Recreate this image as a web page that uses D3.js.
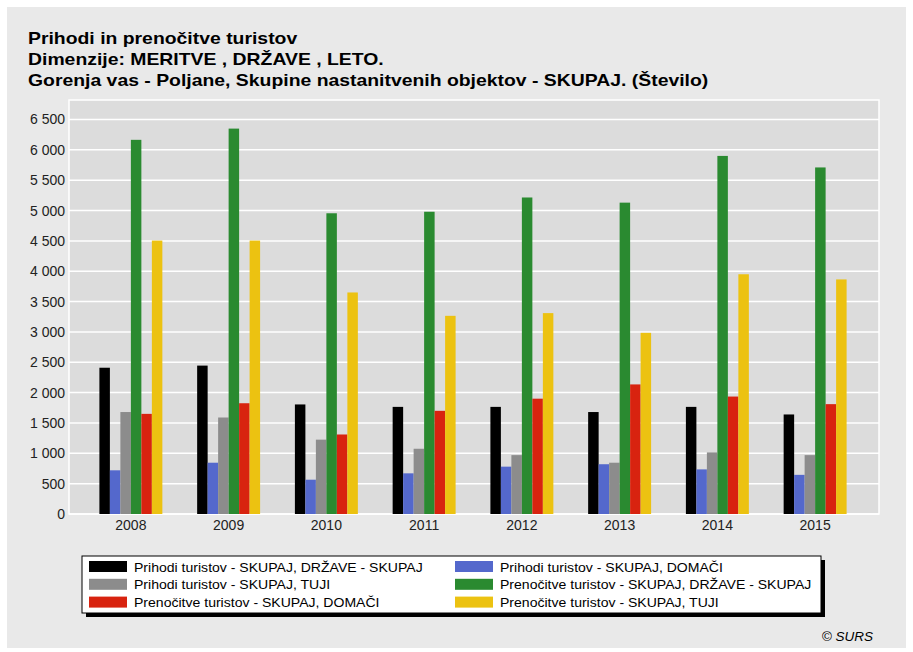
<!DOCTYPE html>
<html>
<head>
<meta charset="utf-8">
<script src="https://cdn.jsdelivr.net/npm/d3@7"></script>
<style>
  body { margin: 0; background: #fff; }
  svg { display: block; font-family: "Liberation Sans", Arial, sans-serif; }
</style>
</head>
<body>
<div id="chart"></div>
<script>
  'use strict';

  var years = ['2008', '2009', '2010', '2011', '2012', '2013', '2014', '2015'];
  var seriesNames = [
    'Prihodi turistov - SKUPAJ, DRŽAVE - SKUPAJ',
    'Prihodi turistov - SKUPAJ, DOMAČI',
    'Prihodi turistov - SKUPAJ, TUJI',
    'Prenočitve turistov - SKUPAJ, DRŽAVE - SKUPAJ',
    'Prenočitve turistov - SKUPAJ, DOMAČI',
    'Prenočitve turistov - SKUPAJ, TUJI'
  ];
  var prihodiSkupaj = [2410, 2445, 1805, 1765, 1765, 1680, 1765, 1640];
  var prihodiDomaci = [720, 845, 565, 670, 780, 820, 735, 645];
  var prihodiTuji = [1680, 1590, 1225, 1075, 970, 845, 1015, 970];
  var prenocitveSkupaj = [6165, 6350, 4955, 4980, 5215, 5130, 5900, 5710];
  var prenocitveDomaci = [1650, 1825, 1310, 1700, 1900, 2135, 1935, 1810];
  var prenocitveTuji = [4505, 4505, 3650, 3265, 3310, 2985, 3950, 3865];
  var yTicks = [0, 500, 1000, 1500, 2000, 2500, 3000, 3500, 4000, 4500, 5000, 5500, 6000, 6500];

  var seriesValues = [prihodiSkupaj, prihodiDomaci, prihodiTuji, prenocitveSkupaj, prenocitveDomaci, prenocitveTuji];
  var colors = ['#000000', '#5468cc', '#8c8c8c', '#2a8a30', '#d8230f', '#ecc211'];

  var width = 913, height = 652;
  var plot = { left: 69, top: 100, right: 879, bottom: 514 };

  // widen glyphs a bit, the original was rendered with wider text
  var stretch = function(sel, factor) {
    sel.each(function() {
      var w = this.getComputedTextLength();
      d3.select(this).attr('textLength', w * factor).attr('lengthAdjust', 'spacingAndGlyphs');
    });
  };

  var svg = d3.select('#chart').append('svg')
    .attr('width', width)
    .attr('height', height);

  // outer panel
  svg.append('rect')
    .attr('x', 7).attr('y', 7)
    .attr('width', 899).attr('height', 641)
    .attr('fill', '#e9e9e9');

  var titles = [
    'Prihodi in prenočitve turistov',
    'Dimenzije: MERITVE , DRŽAVE , LETO.',
    'Gorenja vas - Poljane, Skupine nastanitvenih objektov - SKUPAJ. (Število)'
  ];
  svg.selectAll('.title').data(titles).enter().append('text')
    .attr('class', 'title')
    .attr('x', 28)
    .attr('y', function(d, i) { return 44 + i * 21; })
    .attr('font-size', 17)
    .attr('font-weight', 'bold')
    .attr('fill', '#000')
    .text(function(d) { return d; })
    .call(stretch, 1.14);

  // plot background
  svg.append('rect')
    .attr('x', plot.left).attr('y', plot.top)
    .attr('width', plot.right - plot.left).attr('height', plot.bottom - plot.top)
    .attr('fill', '#dcdcdc')
    .attr('stroke', '#fff')
    .attr('stroke-width', 1.5);

  var y = d3.scaleLinear().domain([0, 6500]).range([plot.bottom, 119.5]);
  var x0 = d3.scaleBand().domain(years).range([82, 864]).paddingInner(0.356).paddingOuter(0.178);
  var x1 = d3.scaleBand().domain(d3.range(seriesNames.length)).range([0, x0.bandwidth()]);

  var locale = d3.formatLocale({ decimal: ',', thousands: ' ', grouping: [3], currency: ['', ''] });
  var fmt = locale.format(',d');

  // gridlines
  svg.append('g')
    .selectAll('line').data(yTicks).enter().append('line')
    .attr('x1', plot.left).attr('x2', plot.right)
    .attr('y1', function(d) { return y(d); })
    .attr('y2', function(d) { return y(d); })
    .attr('stroke', '#fff')
    .attr('stroke-width', 1.5);

  var yAxis = svg.append('g')
    .attr('transform', 'translate(' + plot.left + ',0)')
    .call(d3.axisLeft(y).tickValues(yTicks).tickFormat(fmt).tickSize(0).tickPadding(4));
  yAxis.select('.domain').remove();
  yAxis.selectAll('text').attr('font-size', 14).attr('fill', '#222').attr('font-family', null);

  var xAxis = svg.append('g')
    .attr('transform', 'translate(0,' + plot.bottom + ')')
    .call(d3.axisBottom(x0).tickSize(0).tickPadding(6));
  xAxis.select('.domain').remove();
  xAxis.selectAll('text').attr('font-size', 14).attr('fill', '#222').attr('font-family', null);

  // bars
  var groups = svg.append('g').selectAll('g').data(years).enter().append('g')
    .attr('transform', function(d) { return 'translate(' + x0(d) + ',0)'; });

  groups.selectAll('rect')
    .data(function(d, yi) {
      return seriesValues.map(function(vals, si) { return { s: si, v: vals[yi] }; });
    })
    .enter().append('rect')
    .attr('x', function(d) { return x1(d.s); })
    .attr('y', function(d) { return y(d.v); })
    .attr('width', x1.bandwidth())
    .attr('height', function(d) { return y(0) - y(d.v); })
    .attr('fill', function(d) { return colors[d.s]; });

  // legend
  var lg = svg.append('g');
  lg.append('rect')
    .attr('x', 86).attr('y', 560)
    .attr('width', 739).attr('height', 57)
    .attr('fill', '#000');
  lg.append('rect')
    .attr('x', 82).attr('y', 556)
    .attr('width', 739).attr('height', 57)
    .attr('fill', '#fff')
    .attr('stroke', '#000')
    .attr('stroke-width', 1);

  var items = lg.selectAll('.item').data(seriesNames).enter().append('g')
    .attr('class', 'item')
    .attr('transform', function(d, i) {
      var col = i % 2, row = Math.floor(i / 2);
      return 'translate(' + (col === 0 ? 89 : 455) + ',' + (561 + row * 17.8) + ')';
    });
  items.append('rect')
    .attr('width', 38).attr('height', 11)
    .attr('fill', function(d, i) { return colors[i]; });
  items.append('text')
    .attr('x', 45).attr('y', 10.5)
    .attr('font-size', 13)
    .attr('fill', '#000')
    .text(function(d) { return d; })
    .call(stretch, 1.08);

  svg.append('text')
    .attr('x', 873).attr('y', 641)
    .attr('text-anchor', 'end')
    .attr('font-size', 13.5)
    .attr('font-style', 'italic')
    .attr('fill', '#000')
    .text('© SURS');
</script>
</body>
</html>
